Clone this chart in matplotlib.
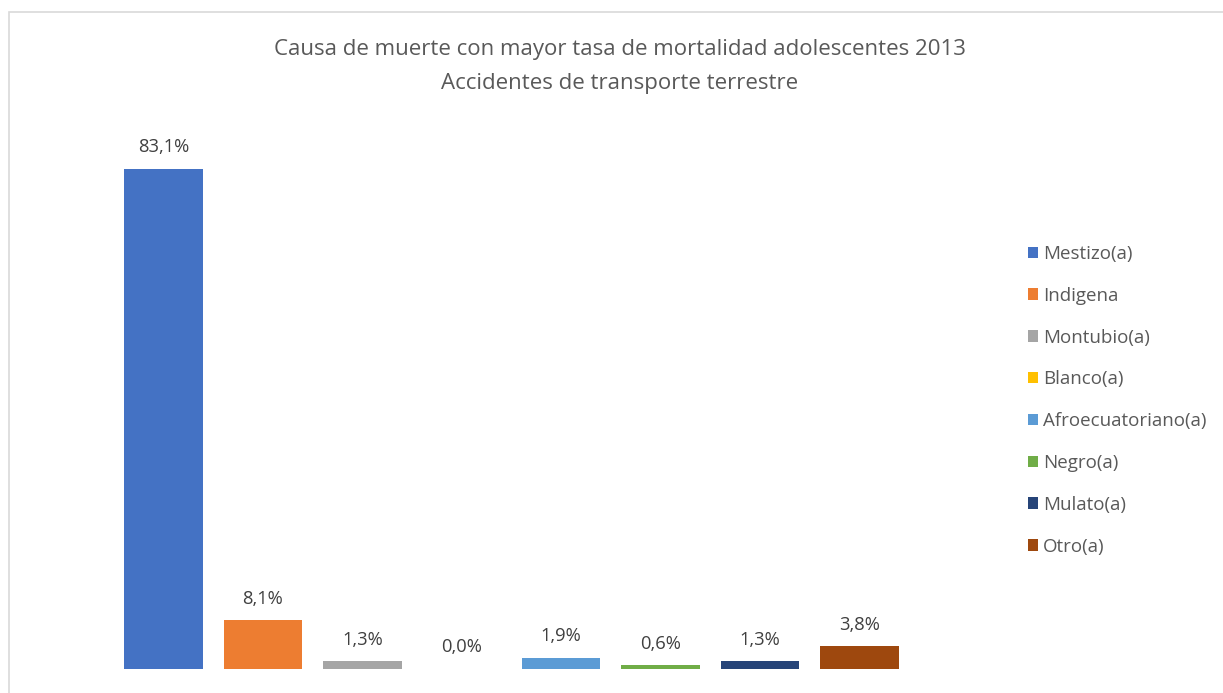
import matplotlib.pyplot as plt
from matplotlib.patches import Rectangle, Patch

# Data
categories = ['Mestizo(a)', 'Indigena', 'Montubio(a)', 'Blanco(a)',
              'Afroecuatoriano(a)', 'Negro(a)', 'Mulato(a)', 'Otro(a)']
values = [83.1, 8.1, 1.3, 0.0, 1.9, 0.6, 1.3, 3.8]
colors = ['#4472C4', '#ED7D31', '#A5A5A5', '#FFC000',
          '#5B9BD5', '#70AD47', '#264478', '#9E480E']
title_lines = ['Causa de muerte con mayor tasa de mortalidad adolescentes 2013',
               'Accidentes de transporte terrestre']

plt.rcParams['font.family'] = ['Open Sans', 'DejaVu Sans']

W, H = 1223, 693
fig = plt.figure(figsize=(W / 100, H / 100), dpi=100)

# chart border (light grey, runs off the right and bottom edges)
fig.patches.append(Rectangle((9 / W, -0.1), 1.2, 1 - 12 / H + 0.1,
                             transform=fig.transFigure, fill=False,
                             edgecolor='#d9d9d9', linewidth=1.2))

ax = fig.add_axes([113.8 / W, (H - 669) / H, 795.4 / W, 541.8 / H])
x = range(len(categories))
bars = ax.bar(x, values, width=0.79, color=colors)
ax.set_xlim(-0.5, len(categories) - 0.5)
ax.set_ylim(0, 90)
ax.axis('off')

for b, v in zip(bars, values):
    ax.annotate(f'{v:.1f}%'.replace('.', ','),
                (b.get_x() + b.get_width() / 2, b.get_height()),
                xytext=(0, 15.5), textcoords='offset points',
                ha='center', va='center', fontsize=13.2, color='#404040')

fig.text(620 / W, 1 - 50 / H, title_lines[0], ha='center', va='center',
         fontsize=16, color='#595959')
fig.text(620 / W, 1 - 83 / H, title_lines[1], ha='center', va='center',
         fontsize=16, color='#595959')

handles = [Patch(facecolor=c, edgecolor='none') for c in colors]
fig.legend(handles, categories, loc='upper left',
           bbox_to_anchor=(1011 / W, 1 - 228 / H), frameon=False,
           fontsize=13.5, labelcolor='#595959', handlelength=0.55,
           handleheight=0.55, handletextpad=0.27, labelspacing=1.27)

fig.savefig('out.png', dpi=100)
